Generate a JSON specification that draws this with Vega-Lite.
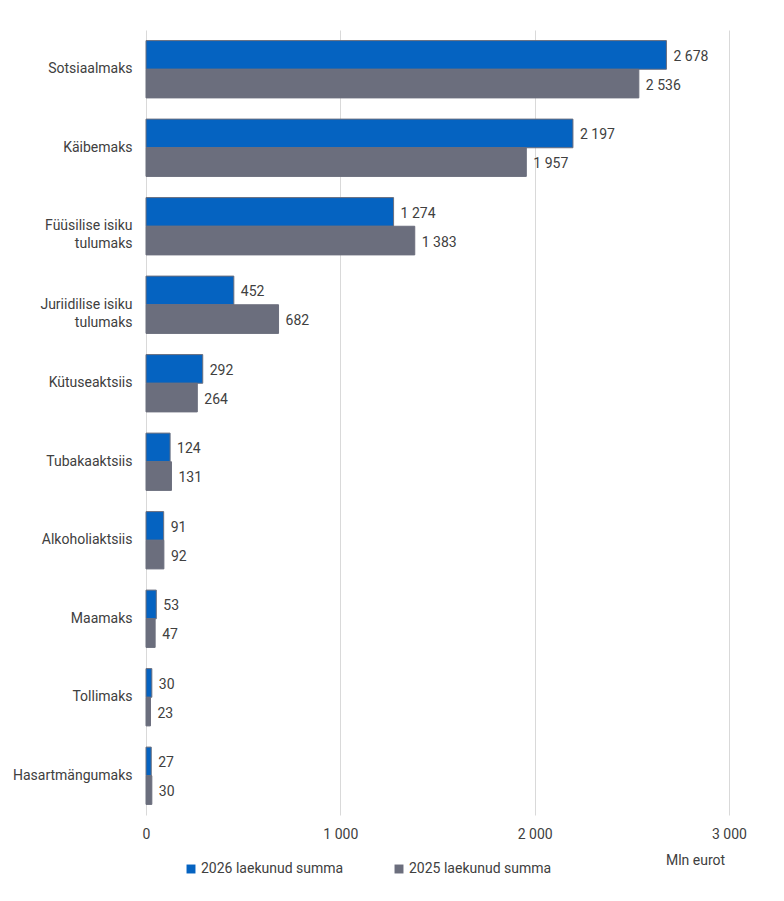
{
  "$schema": "https://vega.github.io/schema/vega-lite/v6.json",
  "width": 583,
  "height": 785,
  "autosize": {"type": "none"},
  "padding": {"left": 146, "top": 30, "right": 55, "bottom": 86},
  "background": "white",
  "config": {
    "font": "Roboto, sans-serif",
    "locale": {"number": {"decimal": ",", "thousands": " ", "grouping": [3], "currency": ["", ""]}},
    "view": {"stroke": null},
    "axis": {"labelColor": "#404040", "titleColor": "#404040", "labelFontSize": 14, "titleFontSize": 14, "titleFontWeight": "normal"}
  },
  "data": {
    "values": [
      {"maks": "Sotsiaalmaks", "seeria": "2026 laekunud summa", "summa": 2678},
      {"maks": "Sotsiaalmaks", "seeria": "2025 laekunud summa", "summa": 2536},
      {"maks": "Käibemaks", "seeria": "2026 laekunud summa", "summa": 2197},
      {"maks": "Käibemaks", "seeria": "2025 laekunud summa", "summa": 1957},
      {"maks": "Füüsilise isiku|tulumaks", "seeria": "2026 laekunud summa", "summa": 1274},
      {"maks": "Füüsilise isiku|tulumaks", "seeria": "2025 laekunud summa", "summa": 1383},
      {"maks": "Juriidilise isiku|tulumaks", "seeria": "2026 laekunud summa", "summa": 452},
      {"maks": "Juriidilise isiku|tulumaks", "seeria": "2025 laekunud summa", "summa": 682},
      {"maks": "Kütuseaktsiis", "seeria": "2026 laekunud summa", "summa": 292},
      {"maks": "Kütuseaktsiis", "seeria": "2025 laekunud summa", "summa": 264},
      {"maks": "Tubakaaktsiis", "seeria": "2026 laekunud summa", "summa": 124},
      {"maks": "Tubakaaktsiis", "seeria": "2025 laekunud summa", "summa": 131},
      {"maks": "Alkoholiaktsiis", "seeria": "2026 laekunud summa", "summa": 91},
      {"maks": "Alkoholiaktsiis", "seeria": "2025 laekunud summa", "summa": 92},
      {"maks": "Maamaks", "seeria": "2026 laekunud summa", "summa": 53},
      {"maks": "Maamaks", "seeria": "2025 laekunud summa", "summa": 47},
      {"maks": "Tollimaks", "seeria": "2026 laekunud summa", "summa": 30},
      {"maks": "Tollimaks", "seeria": "2025 laekunud summa", "summa": 23},
      {"maks": "Hasartmängumaks", "seeria": "2026 laekunud summa", "summa": 27},
      {"maks": "Hasartmängumaks", "seeria": "2025 laekunud summa", "summa": 30}
    ]
  },
  "encoding": {
    "y": {
      "field": "maks",
      "type": "nominal",
      "sort": null,
      "scale": {"paddingInner": 0.27, "paddingOuter": 0.135},
      "axis": {
        "title": null,
        "domain": false,
        "ticks": false,
        "labelPadding": 14,
        "labelExpr": "split(datum.label, '|')",
        "labelLineHeight": 18
      }
    },
    "yOffset": {
      "field": "seeria",
      "type": "nominal",
      "sort": ["2026 laekunud summa", "2025 laekunud summa"]
    },
    "x": {
      "field": "summa",
      "type": "quantitative",
      "scale": {"domain": [0, 3000]},
      "axis": {
        "values": [0, 1000, 2000, 3000],
        "format": ",d",
        "domain": false,
        "ticks": false,
        "labelFlush": false,
        "gridColor": "#d9d9d9",
        "labelPadding": 12,
        "title": "Mln eurot",
        "titleX": 549,
        "titleY": 38,
        "titleAlign": "center"
      }
    }
  },
  "layer": [
    {
      "mark": {"type": "bar", "stroke": "#6b6e7d", "strokeWidth": 1},
      "encoding": {
        "color": {
          "field": "seeria",
          "type": "nominal",
          "scale": {"domain": ["2026 laekunud summa", "2025 laekunud summa"], "range": ["#0563c1", "#6b6e7d"]},
          "legend": {
            "title": null,
            "orient": "none",
            "direction": "horizontal",
            "legendX": 38,
            "legendY": 832,
            "symbolType": "square",
            "symbolSize": 80,
            "symbolStrokeWidth": 0,
            "labelOffset": 3,
            "labelFontSize": 14,
            "labelColor": "#404040",
            "columnPadding": 48
          }
        }
      }
    },
    {
      "mark": {"type": "text", "align": "left", "dx": 7, "dy": 2, "fontSize": 14, "color": "#404040"},
      "encoding": {
        "text": {"field": "summa", "type": "quantitative", "format": ",d"}
      }
    }
  ]
}
